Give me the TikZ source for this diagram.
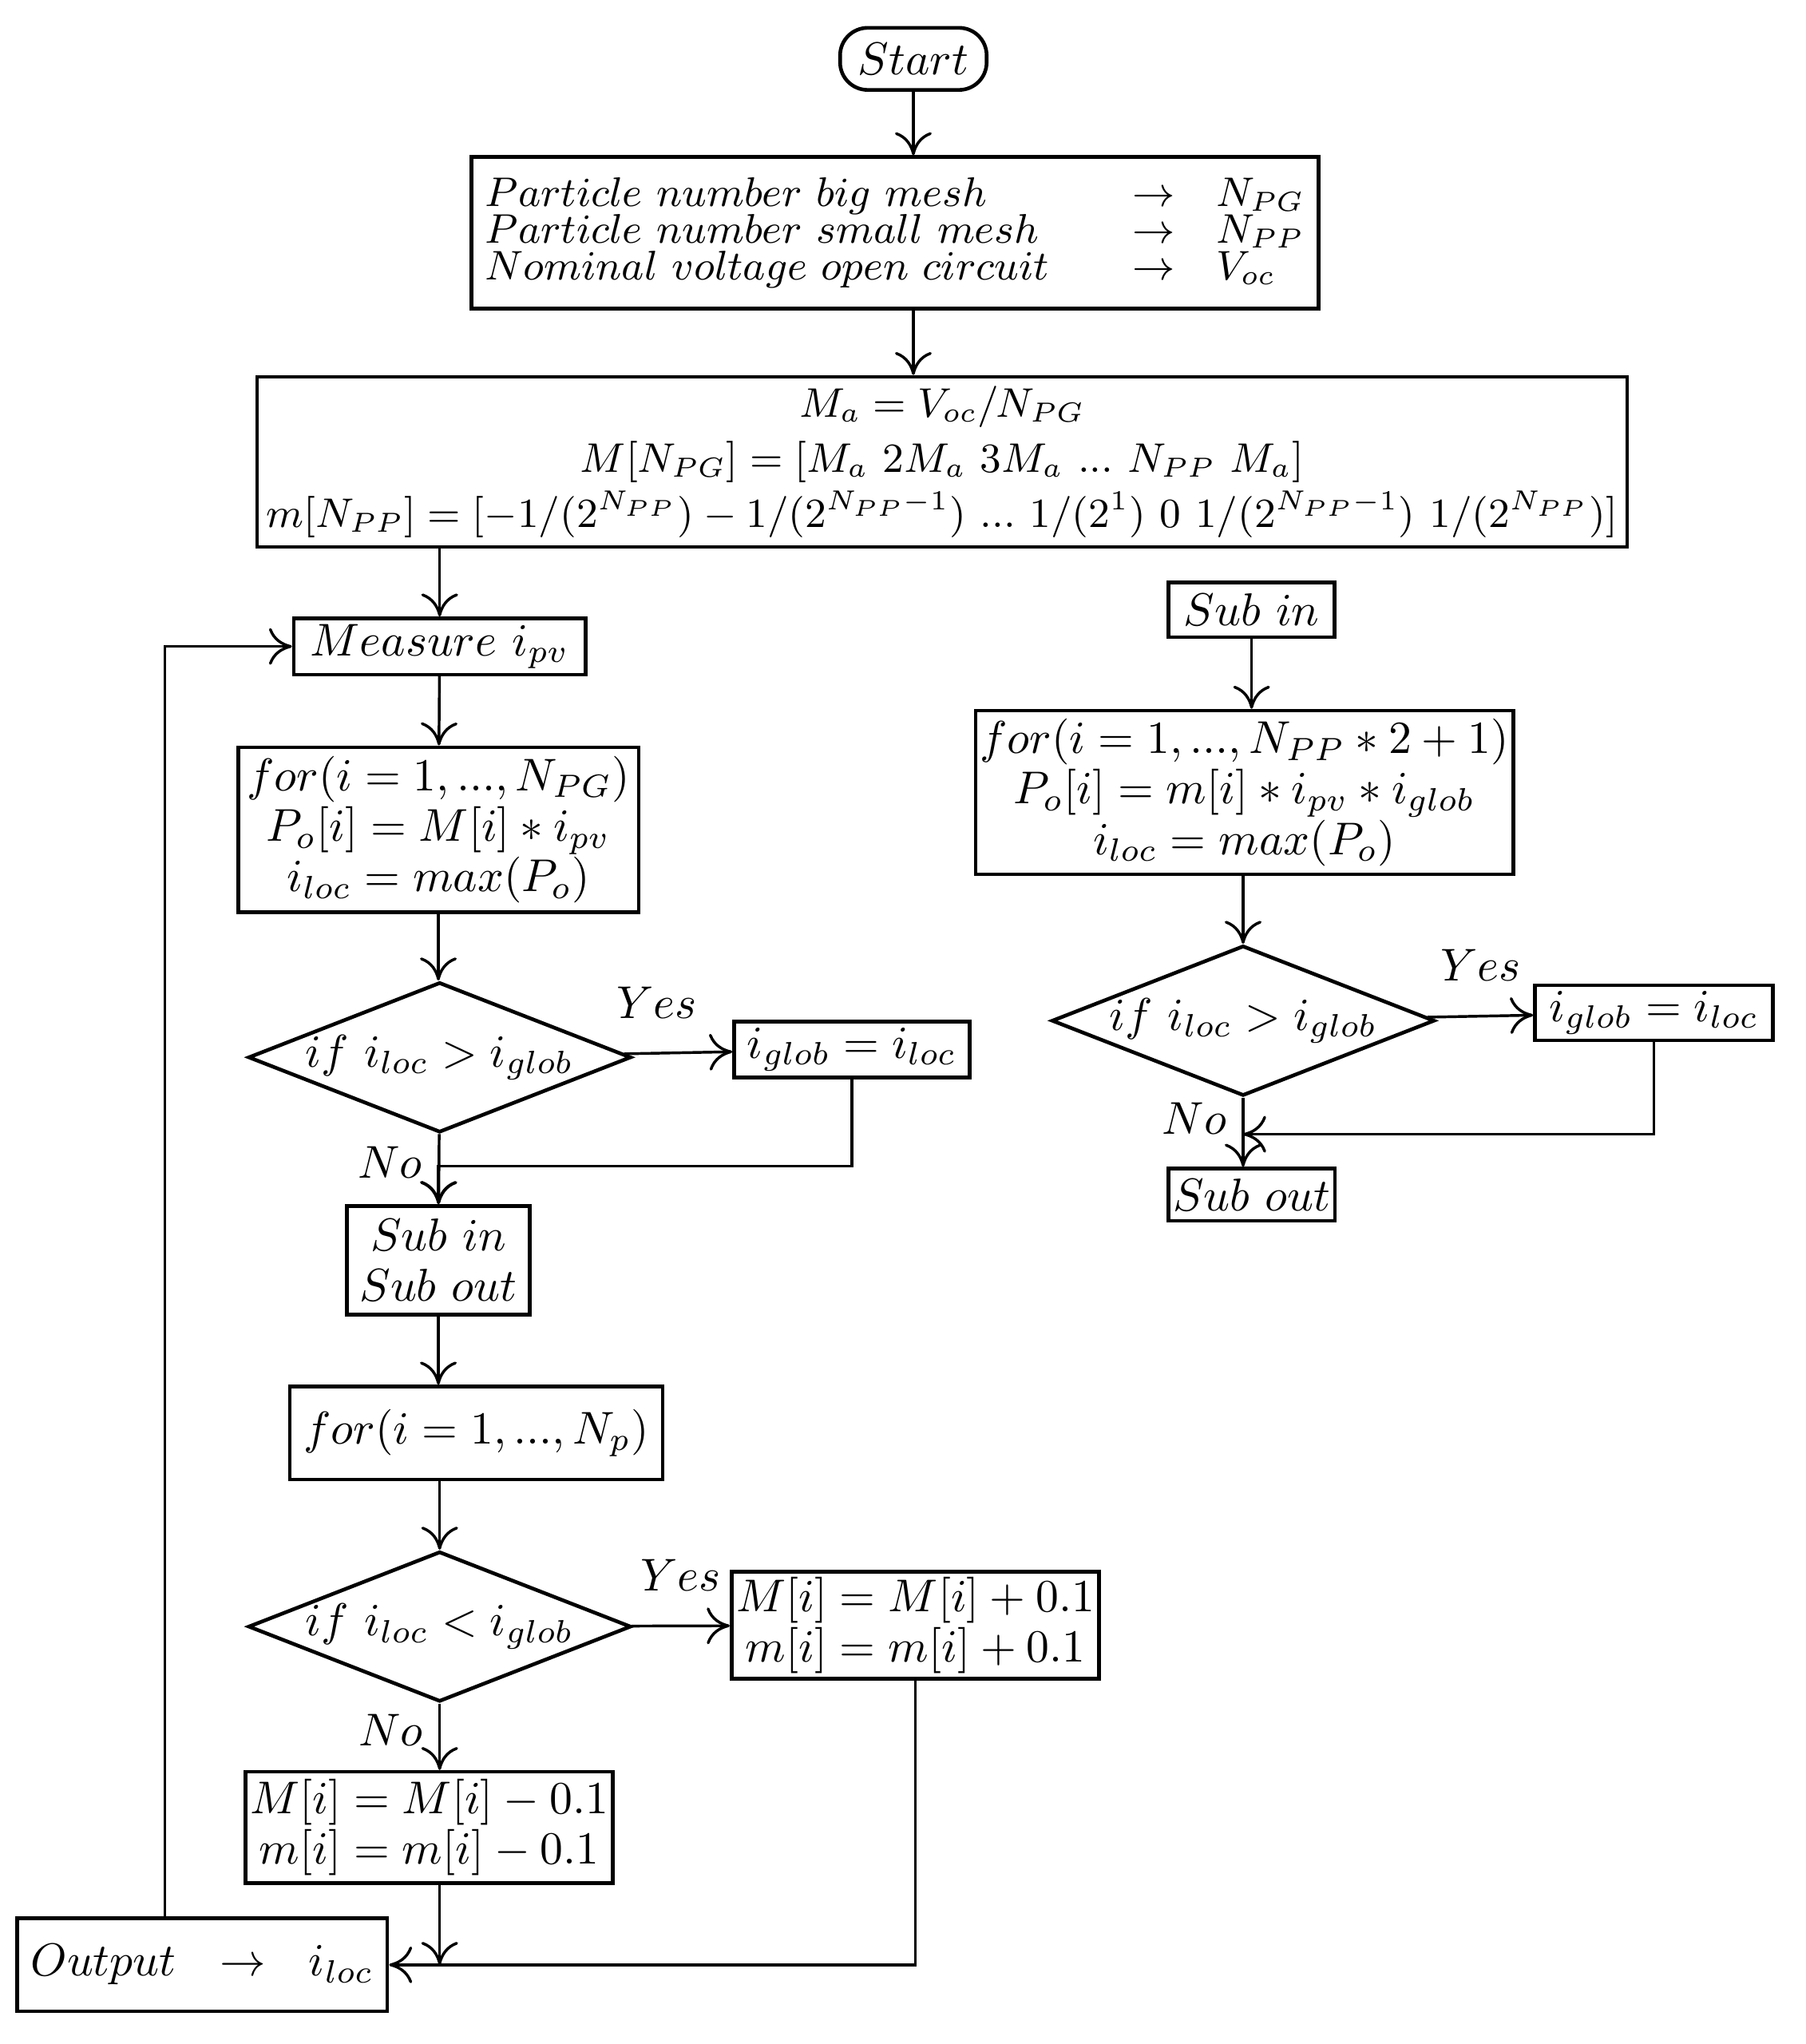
\documentclass[tikz,border=0pt]{standalone}
\usepackage{amsmath}
\usepackage{tikz}
\usetikzlibrary{shapes.geometric, arrows.meta, calc}

\begin{document}
\begin{tikzpicture}[x=1cm, y=1cm, font=\normalsize,
    box/.style={draw, thick, align=center, inner sep=3pt},
    dec/.style={draw, thick, diamond, aspect=2.55, inner sep=0pt, minimum width=2.8cm, minimum height=1.1cm},
    arr/.style={-{To[length=5pt, width=8pt]}, semithick}]
        \useasboundingbox (0, 0) rectangle (13.8, -15.62);
        % Debut et initialisation
        \node[draw, thick, rounded corners=6pt, minimum width=1.12cm, minimum height=0.42cm] (start) at (6.98, -0.45) {$Start$};
        \node[box, font=\small, minimum width=6.14cm, minimum height=1.12cm] (init) at (6.84, -1.78) {%
            \begin{tabular}{@{}l@{\qquad}c@{\quad}l@{}}
            $Particle\ number\ big\ mesh$ & $\rightarrow$ & $N_{PG}$\\[-3pt]
            $Particle\ number\ small\ mesh$ & $\rightarrow$ & $N_{PP}$\\[-3pt]
            $Nominal\ voltage\ open\ circuit$ & $\rightarrow$ & $V_{oc}$
            \end{tabular}};
        \node[box, font=\small, minimum width=10.47cm, minimum height=1.25cm, inner sep=2pt] (mass) at (7.2, -3.53) {%
            $M_a = V_{oc}/N_{PG}$\\[1pt]
            $M[N_{PG}] = [M_a\ 2M_a\ 3M_a\ ...\ N_{PP}\ M_a]$\\[1pt]
            $m[N_{PP}] = [-1/(2^{N_{PP}}) - 1/(2^{N_{PP}-1})\ ...\ 1/(2^1)\ 0\ 1/(2^{N_{PP}-1})\ 1/(2^{N_{PP}})]$};
        % Boucle principale
        \node[box, minimum width=2.23cm, minimum height=0.43cm, inner sep=1pt] (meas) at (3.36, -4.94) {$Measure\ i_{pv}$};
        \node[box, minimum width=3.06cm, minimum height=1.26cm, inner sep=1pt] (for1) at (3.35, -6.34) {%
            $for(i = 1, ..., N_{PG})$\\[-1pt] $P_o[i] = M[i] * i_{pv}$\\[-1pt] $i_{loc} = max(P_o)$};
        \node[dec] (if1) at (3.36, -8.08) {$if\ i_{loc} > i_{glob}$};
        \node[box, minimum width=1.8cm, minimum height=0.43cm, inner sep=1pt] (glob1) at (6.51, -8.02) {$i_{glob} = i_{loc}$};
        \node[box, minimum width=1.4cm, minimum height=0.83cm, inner sep=1pt] (sub) at (3.35, -9.63) {$Sub\ in$\\[-1pt] $Sub\ out$};
        \node[box, minimum width=2.78cm, minimum height=0.71cm] (for2) at (3.64, -10.95) {$for(i = 1, ..., N_p)$};
        \node[dec] (if2) at (3.36, -12.43) {$if\ i_{loc} < i_{glob}$};
        \node[box, minimum width=2.77cm, minimum height=0.82cm, inner sep=1pt] (inc) at (6.995, -12.42) {$M[i] = M[i] + 0.1$\\[-1pt] $m[i] = m[i] + 0.1$};
        \node[box, minimum width=2.64cm, minimum height=0.85cm, inner sep=1pt] (decr) at (3.28, -13.965) {$M[i] = M[i] - 0.1$\\[-1pt] $m[i] = m[i] - 0.1$};
        \node[box, minimum width=2.51cm, minimum height=0.71cm] (out) at (1.545, -15.015) {$Output\ \ \rightarrow\ \ i_{loc}$};
        % Sous-programme
        \node[box, minimum width=1.27cm, minimum height=0.42cm, inner sep=1pt] (subin) at (9.565, -4.66) {$Sub\ in$};
        \node[box, minimum width=3.9cm, minimum height=1.25cm, inner sep=1pt] (for3) at (9.51, -6.055) {%
            $for(i = 1, ..., N_{PP} * 2 + 1)$\\[-1pt] $P_o[i] = m[i] * i_{pv} * i_{glob}$\\[-1pt] $i_{loc} = max(P_o)$};
        \node[dec] (if3) at (9.5, -7.8) {$if\ i_{loc} > i_{glob}$};
        \node[box, minimum width=1.82cm, minimum height=0.42cm, inner sep=1pt] (glob3) at (12.64, -7.74) {$i_{glob} = i_{loc}$};
        \node[box, minimum width=1.27cm, minimum height=0.4cm, inner sep=1pt] (subout) at (9.565, -9.13) {$Sub\ out$};
        % Connexions
        \draw[arr] (start) -- (start |- init.north);
        \draw[arr] (init.south -| start) -- (mass.north -| start);
        \draw[arr] (mass.south -| meas) -- (meas);
        \draw[arr] (meas) -- (for1);
        \draw[arr] (for1) -- (for1 |- if1.north);
        \draw[arr] (if1) -- node[above, pos=0.3, yshift=4pt]{$Yes$} (glob1);
        \draw[arr] (if1) -- node[left, pos=0.4]{$No$} (sub);
        \coordinate (join1) at ($(sub.north) + (0, 0.29)$);
        \draw[arr] (glob1) |- (join1) -- (sub);
        \draw[arr] (sub) -- (sub |- for2.north);
        \draw[arr] (for2.south -| if2) -- (if2);
        \draw[arr] (if2) -- node[above, pos=0.5, yshift=4pt]{$Yes$} (inc);
        \draw[arr] (if2) -- node[left, pos=0.4]{$No$} (decr.north -| if2);
        \coordinate (join2) at (decr.south -| if2);
        \draw[arr] (join2) -- (join2 |- out.east);
        \draw[arr] (inc) |- (out.east);
        \coordinate (back) at (out.north -| 1.26, 0);
        \draw[arr] (back) |- (meas.west);
        \draw[arr] (subin) -- (subin |- for3.north);
        \draw[arr] (for3.south -| if3) -- (if3);
        \draw[arr] (if3) -- node[above, pos=0.5, yshift=4pt]{$Yes$} (glob3);
        \draw[arr] (if3) -- node[left, pos=0.3]{$No$} (subout.north -| if3);
        \draw[arr] (glob3) |- ($(if3.south) + (0, -0.28)$);
\end{tikzpicture}
\end{document}
